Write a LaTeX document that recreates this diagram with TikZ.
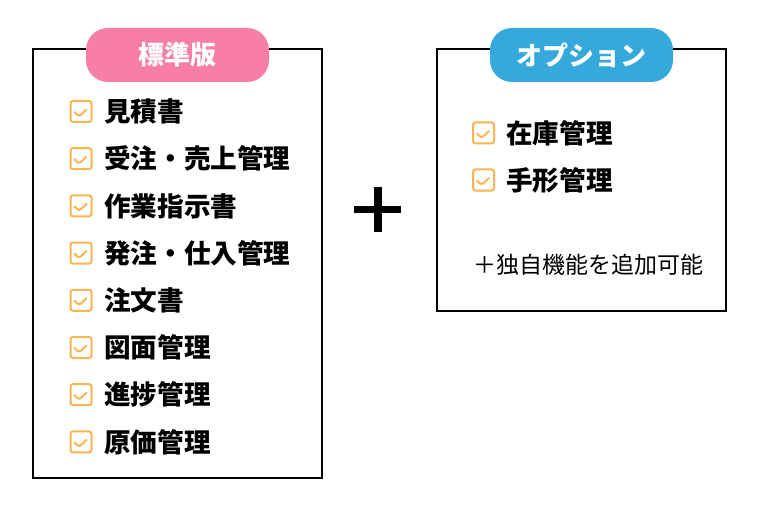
\documentclass[tikz,border=0pt]{standalone}
\usepackage{fontspec}
\newfontfamily\jp{Noto Sans CJK JP}
\definecolor{pinkc}{HTML}{F77FA6}
\definecolor{bluec}{HTML}{35A9DC}
\definecolor{chkc}{HTML}{F9B552}
\begin{document}
\begin{tikzpicture}[x=1pt,y=-1pt,
  frame/.style={draw=black,line width=1.6pt},
  pill/.style={rounded corners=22pt,minimum width=183pt,minimum height=54pt,inner sep=0pt,text=white,font=\jp\bfseries\fontsize{26}{26}\selectfont},
  chkbox/.style={draw=chkc,line width=2pt,rounded corners=2.5pt,minimum size=21pt,inner sep=0pt,
    path picture={\draw[chkc,line width=2pt,line cap=round,line join=round]
      ([xshift=-6.5pt,yshift=-0.5pt]path picture bounding box.center) -- ++(4.5pt,-4.5pt) -- ++(7.5pt,7pt);}},
  item/.style={anchor=west,inner sep=0pt,font=\jp\bfseries\fontsize{26.6}{26.6}\selectfont},
  note/.style={anchor=west,inner sep=0pt,font=\jp\fontsize{23}{23}\selectfont}]
\useasboundingbox[fill=white] (0,0) rectangle (762,505);
% frames
\draw[frame] (33,49) rectangle (322,478);
\draw[frame] (437,49) rectangle (726,311);
% pills
\node[pill,fill=pinkc] (std) at (177.5,55) {標準版};
\node[pill,fill=bluec] (opt) at (581.5,55) {オプション};
% left items
\foreach \i/\t [count=\n] in {0/見積書,1/受注・売上管理,2/作業指示書,3/発注・仕入管理,4/注文書,5/図面管理,6/進捗管理,7/原価管理}{
  \node[chkbox] (lc\n) at (81,{111.5+47.2*\i}) {};
  \node[item] (lt\n) at (104,{111.5+47.2*\i}) {\t};
}
% right items
\node[chkbox] (rc1) at (483.5,133) {};
\node[item] (rt1) at (506,133) {在庫管理};
\node[chkbox] (rc2) at (483.5,180) {};
\node[item] (rt2) at (506,180) {手形管理};
\node[note] (extra) at (473,265) {＋独自機能を追加可能};
% plus sign
\coordinate (pc) at (377.5,209.5);
\fill[black] ([xshift=-23.5pt,yshift=-3.5pt]pc) rectangle ([xshift=23.5pt,yshift=3.5pt]pc);
\fill[black] ([xshift=-4pt,yshift=-22.5pt]pc) rectangle ([xshift=4pt,yshift=22.5pt]pc);
\end{tikzpicture}
\end{document}
